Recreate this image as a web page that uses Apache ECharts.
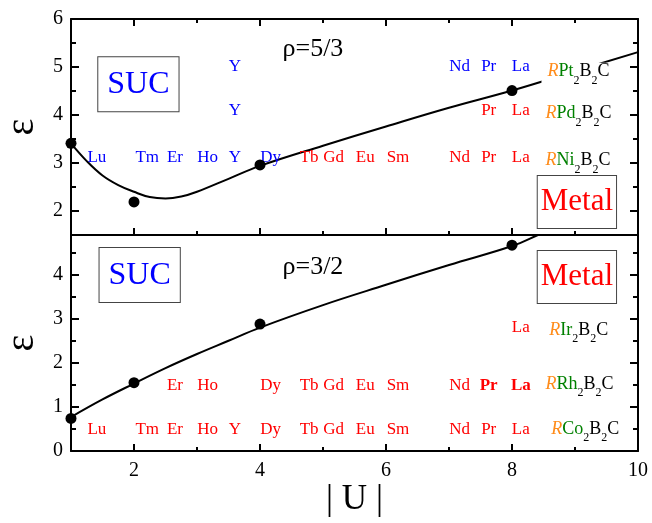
<!DOCTYPE html>
<html>
<head>
<meta charset="utf-8">
<script src="https://cdn.jsdelivr.net/npm/echarts@6/dist/echarts.min.js"></script>
<style>html,body{margin:0;padding:0;background:#fff}#c{width:652px;height:523px}</style>
</head>
<body>
<div id="c"></div>
<script>
// ---------- data ----------
const uTop = [1, 2, 4, 8];
const epsTop = [3.41, 2.19, 2.96, 4.51];
const uBottom = [1, 2, 4, 8];
const epsBottom = [0.74, 1.55, 2.88, 4.67];

const fitTopU = [1, 1.25, 1.5, 1.75, 2, 2.25, 2.5, 2.75, 3, 3.5, 4, 5, 6, 7, 8, 9, 10];
const fitTopEps = [3.41, 3.04, 2.74, 2.54, 2.40, 2.29, 2.26, 2.30, 2.40, 2.67, 2.94, 3.36, 3.76, 4.15, 4.51, 4.91, 5.31];
const fitBottomU = [1, 1.5, 2, 2.5, 3, 3.5, 4, 5, 6, 7, 8, 8.5, 9];
const fitBottomEps = [0.77, 1.17, 1.53, 1.88, 2.20, 2.50, 2.80, 3.31, 3.77, 4.22, 4.65, 4.95, 5.2];

const elements = ['Lu','Tm','Er','Ho','Y','Dy','Tb','Gd','Eu','Sm','Nd','Pr','La'];
const elementU = [1.41, 2.21, 2.65, 3.17, 3.60, 4.17, 4.78, 5.17, 5.67, 6.19, 7.17, 7.63, 8.14];

// rows of element labels: names, eps level, which are blue, which bold
const rowPtNames = ['Y','Nd','Pr','La'];           const rowPtEps = 5.0;  const rowPtBlue = ['Y','Nd','Pr','La'];
const rowPdNames = ['Y','Pr','La'];                const rowPdEps = 4.10; const rowPdBlue = ['Y'];
const rowNiNames = elements;                       const rowNiEps = 3.11; const rowNiBlue = ['Lu','Tm','Er','Ho','Y','Dy'];
const rowIrNames = ['La'];                         const rowIrEps = 2.79;
const rowRhNames = ['Er','Ho','Dy','Tb','Gd','Eu','Sm','Nd','Pr','La']; const rowRhEps = 1.49; const rowRhBold = ['Pr','La'];
const rowCoNames = elements;                       const rowCoEps = 0.49;

const compoundMetals = ['Pt','Pd','Ni','Ir','Rh','Co'];
const compoundU = [8.46, 8.43, 8.43, 8.49, 8.43, 8.52];
const compoundEps = [4.84, 3.97, 2.99, 2.67, 1.455, 0.425];
const compoundPanel = [0, 0, 0, 1, 1, 1];

const xTicksMajor = [2, 4, 6, 8];
const xTicksMinor = [3, 5, 7, 9];
const xTickLabels = [2, 4, 6, 8, 10];
const yTopMajor = [2, 3, 4, 5, 6];
const yTopMinor = [2.5, 3.5, 4.5, 5.5];
const yBotMajor = [0, 1, 2, 3, 4];
const yBotMinor = [0.5, 1.5, 2.5, 3.5, 4.5];

// ---------- styling helpers ----------
const FF = "'Liberation Serif','Times New Roman',serif";
const BLUE = '#0000ff', RED = '#ff0000', ORANGE = '#ff8c1a', GREEN = '#008000';

function xAx(grid, pos, ticks, len, line, labels, extra) {
  return Object.assign({
    type: 'value', gridIndex: grid, position: pos, min: 1, max: 10,
    axisLine: { show: line, onZero: false, lineStyle: { color: '#000', width: 2 } },
    axisTick: { show: ticks.length > 0, inside: true, length: len, customValues: ticks, lineStyle: { color: '#000', width: 2 } },
    axisLabel: labels ? { show: true, customValues: labels, fontFamily: FF, fontSize: 20, color: '#000', margin: 10 } : { show: false },
    splitLine: { show: false }
  }, extra || {});
}
function yAx(grid, pos, min, max, ticks, len, line, labels, extra) {
  return Object.assign({
    type: 'value', gridIndex: grid, position: pos, min: min, max: max,
    axisLine: { show: line, onZero: false, lineStyle: { color: '#000', width: 2 } },
    axisTick: { show: true, inside: true, length: len, customValues: ticks, lineStyle: { color: '#000', width: 2 } },
    axisLabel: labels ? { show: true, customValues: labels, fontFamily: FF, fontSize: 20, color: '#000', margin: 8 } : { show: false },
    splitLine: { show: false }
  }, extra || {});
}

const epsName = { name: 'ε', nameLocation: 'middle', nameGap: 29, nameRotate: 90,
  nameTextStyle: { fontFamily: FF, fontSize: 40, color: '#000' } };

const xAxes = [
  xAx(0, 'bottom', xTicksMajor, 7, true, null),             // 0
  xAx(0, 'bottom', xTicksMinor, 4, false, null),            // 1
  xAx(0, 'top', xTicksMajor, 7, true, null),                // 2
  xAx(0, 'top', xTicksMinor, 4, false, null),               // 3
  xAx(1, 'bottom', xTicksMajor, 7, true, xTickLabels, {     // 4
    name: '| U |', nameLocation: 'middle', nameGap: 26,
    nameTextStyle: { fontFamily: FF, fontSize: 35, color: '#000' } }),
  xAx(1, 'bottom', xTicksMinor, 4, false, null),            // 5
  xAx(1, 'top', [], 0, true, null)                          // 6
];
const yAxes = [
  yAx(0, 'left', 1.5, 6, yTopMajor, 8, true, yTopMajor, epsName),  // 0
  yAx(0, 'left', 1.5, 6, yTopMinor, 5, false, null),               // 1
  yAx(0, 'right', 1.5, 6, yTopMajor, 8, true, null),               // 2
  yAx(0, 'right', 1.5, 6, yTopMinor, 5, false, null),              // 3
  yAx(1, 'left', 0, 4.9, yBotMajor, 8, true, yBotMajor, epsName),  // 4
  yAx(1, 'left', 0, 4.9, yBotMinor, 5, false, null),               // 5
  yAx(1, 'right', 0, 4.9, yBotMajor, 8, true, null),               // 6
  yAx(1, 'right', 0, 4.9, yBotMinor, 5, false, null)               // 7
];

function zip(a, b) { return a.map((v, i) => [v, b[i]]); }
function uOf(name) { return elementU[elements.indexOf(name)]; }

function elemRow(names, eps, blue, bold) {
  return names.map(n => ({
    value: [uOf(n), eps],
    label: { formatter: n, color: (blue || []).includes(n) ? BLUE : RED,
             fontWeight: (bold || []).includes(n) ? 'bold' : 'normal' }
  }));
}
function labelSeries(panel, data, labelOpt) {
  return {
    type: 'scatter', xAxisIndex: panel ? 4 : 0, yAxisIndex: panel ? 4 : 0,
    symbolSize: 1, itemStyle: { color: 'rgba(0,0,0,0)', opacity: 1 }, z: 6, silent: true,
    label: Object.assign({ show: true, position: 'inside', fontFamily: FF, fontSize: 17, opacity: 1 }, labelOpt || {}),
    data: data
  };
}

const compRich = {
  r: { color: ORANGE, fontStyle: 'italic', fontFamily: FF, fontSize: 18, lineHeight: 20, verticalAlign: 'top' },
  m: { color: GREEN, fontFamily: FF, fontSize: 18, lineHeight: 20, verticalAlign: 'top' },
  k: { color: '#000', fontFamily: FF, fontSize: 18, lineHeight: 20, verticalAlign: 'top' },
  s: { color: '#000', fontFamily: FF, fontSize: 12, lineHeight: 24, verticalAlign: 'bottom' }
};
function compData(panel) {
  const out = [];
  compoundMetals.forEach((m, i) => {
    if (compoundPanel[i] === panel) out.push({ value: [compoundU[i], compoundEps[i]], name: m });
  });
  return out;
}
function compSeries(panel) {
  return labelSeries(panel, compData(panel), {
    position: 'right', distance: 0, align: 'left',
    backgroundColor: '#fff', padding: [0, 6, 0, 6],
    formatter: p => `{r|R}{m|${p.name}}{s|2}{k|B}{s|2}{k|C}`,
    rich: compRich
  });
}

const series = [
  { type: 'line', xAxisIndex: 0, yAxisIndex: 0, data: zip(fitTopU, fitTopEps), smooth: 0.4, showSymbol: false,
    lineStyle: { color: '#000', width: 2 }, z: 2, silent: true },
  { type: 'line', xAxisIndex: 4, yAxisIndex: 4, data: zip(fitBottomU, fitBottomEps), smooth: 0.4, showSymbol: false,
    lineStyle: { color: '#000', width: 2 }, z: 2, silent: true, clip: true },
  { type: 'scatter', xAxisIndex: 0, yAxisIndex: 0, data: zip(uTop, epsTop), symbolSize: 11,
    itemStyle: { color: '#000', opacity: 1 }, z: 7, silent: true },
  { type: 'scatter', xAxisIndex: 4, yAxisIndex: 4, data: zip(uBottom, epsBottom), symbolSize: 11,
    itemStyle: { color: '#000', opacity: 1 }, z: 7, silent: true },
  labelSeries(0, [].concat(
    elemRow(rowPtNames, rowPtEps, rowPtBlue),
    elemRow(rowPdNames, rowPdEps, rowPdBlue),
    elemRow(rowNiNames, rowNiEps, rowNiBlue))),
  labelSeries(1, [].concat(
    elemRow(rowIrNames, rowIrEps),
    elemRow(rowRhNames, rowRhEps, [], rowRhBold),
    elemRow(rowCoNames, rowCoEps))),
  compSeries(0),
  compSeries(1),
  // annotation boxes and rho labels
  labelSeries(0, [
    { value: [2.07, 4.64], label: { formatter: 'SUC', color: BLUE, fontSize: 32, lineHeight: 34, padding: [10, 9, 10, 9], borderColor: '#444', borderWidth: 1, backgroundColor: '#fff' } },
    { value: [9.03, 2.19], label: { formatter: 'Metal', color: RED, fontSize: 31, lineHeight: 32, padding: [10, 3, 10, 3], borderColor: '#444', borderWidth: 1, backgroundColor: '#fff' } },
    { value: [4.84, 5.38], label: { formatter: 'ρ=5/3', color: '#000', fontSize: 26 } }
  ]),
  labelSeries(1, [
    { value: [2.09, 3.99], label: { formatter: 'SUC', color: BLUE, fontSize: 32, lineHeight: 34, padding: [10, 9, 10, 9], borderColor: '#444', borderWidth: 1, backgroundColor: '#fff' } },
    { value: [9.03, 3.95], label: { formatter: 'Metal', color: RED, fontSize: 31, lineHeight: 32, padding: [10, 3, 10, 3], borderColor: '#444', borderWidth: 1, backgroundColor: '#fff' } },
    { value: [4.84, 4.18], label: { formatter: 'ρ=3/2', color: '#000', fontSize: 26 } }
  ])
];

const chart = echarts.init(document.getElementById('c'), null, { renderer: 'canvas' });
chart.setOption({
  animation: false,
  backgroundColor: '#fff',
  grid: [
    { left: 71, right: 14, top: 19, height: 216, outerBoundsMode: 'none', containLabel: false },
    { left: 71, right: 14, top: 235, height: 216, outerBoundsMode: 'none', containLabel: false }
  ],
  xAxis: xAxes,
  yAxis: yAxes,
  series: series
});
</script>
</body>
</html>
